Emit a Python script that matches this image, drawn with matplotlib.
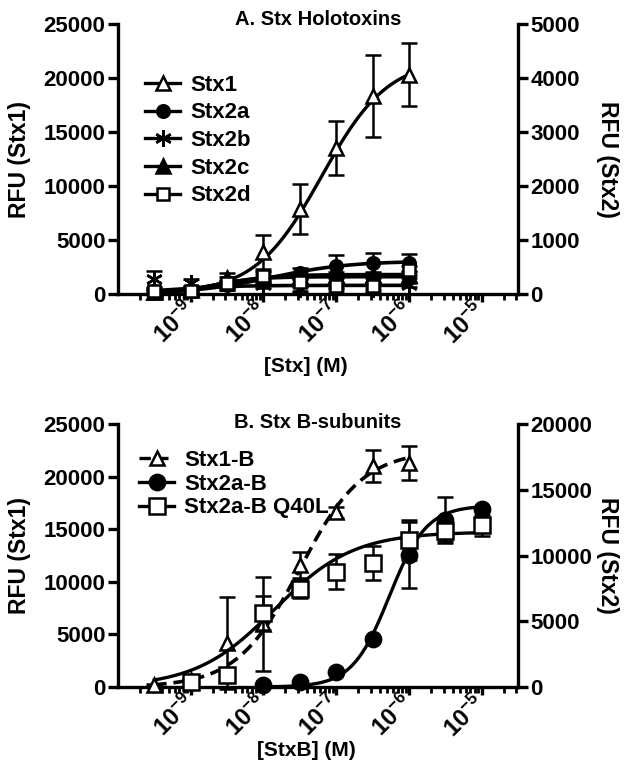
import matplotlib
matplotlib.use("Agg")
import matplotlib.pyplot as plt
import numpy as np
from matplotlib.ticker import FixedLocator, LogLocator, NullFormatter

plt.rcParams['font.family'] = ['Liberation Sans', 'DejaVu Sans']
plt.rcParams['font.weight'] = 'bold'
plt.rcParams['mathtext.fontset'] = 'custom'
plt.rcParams['mathtext.rm'] = 'Liberation Sans:bold'
plt.rcParams['mathtext.bf'] = 'Liberation Sans:bold'

#######################################
#### Data
#######################################
# A. Stx holotoxins
conc_a = [3.16e-10, 1e-9, 3.16e-9, 1e-8, 3.16e-8, 1e-7, 3.16e-7, 1e-6]
stx1 = [200, 500, 1500, 3900, 7900, 13500, 18300, 20300]
stx1_err = [150, 200, 400, 1600, 2300, 2500, 3800, 2900]
stx2a = [50, 80, 160, 300, 380, 520, 570, 575]
stx2a_err = [60, 60, 80, 100, 100, 210, 185, 170]
stx2b = [280, 200, 140, 170, 90, 80, 100, 170]
stx2b_err = [150, 80, 60, 60, 40, 40, 40, 40]
stx2c = [40, 70, 260, 300, 330, 350, 355, 360]
stx2c_err = [30, 40, 60, 60, 60, 60, 60, 60]
stx2d = [50, 60, 200, 340, 220, 150, 150, 440]
stx2d_err = [30, 40, 60, 80, 80, 60, 60, 80]

# fitted curves: (top, logEC50, hill), (log start, log stop)
stx1_fit = (21800, -7.2, 0.95)
stx2a_fit = (610, -7.9, 0.8)
stx2b_fit = (160, -9.3, 1.0)
stx2c_fit = (360, -8.6, 1.2)
stx2d_fit = (320, -8.7, 1.4)
fit_range_a = (-9.5, -6.0)

# B. Stx B-subunits
conc_stx1b = [3.16e-10, 1e-9, 3.16e-9, 1e-8, 3.16e-8, 1e-7, 3.16e-7, 1e-6]
stx1b = [150, 700, 4200, 6000, 11600, 16600, 21000, 21300]
stx1b_err = [100, 200, 4400, 4500, 1200, 500, 1500, 1600]
conc_stx2ab = [1e-8, 3.16e-8, 1e-7, 3.16e-7, 1e-6, 3.16e-6, 1e-5]
stx2ab = [125, 375, 1130, 3640, 10040, 12700, 13550]
stx2ab_err = [50, 50, 100, 150, 2500, 1750, 150]
conc_q40l = [1e-9, 3.16e-9, 1e-8, 3.16e-8, 1e-7, 3.16e-7, 1e-6, 3.16e-6, 1e-5]
q40l = [400, 900, 5650, 7450, 8780, 9410, 11170, 11900, 12300]
q40l_err = [100, 300, 1300, 700, 1350, 1300, 1500, 800, 800]

stx1b_fit = (22500, -7.5, 1.0)
stx1b_range = (-9.5, -6.0)
stx2ab_fit = (13800, -6.27, 1.7)
stx2ab_range = (-8.0, -5.0)
q40l_fit = (11800, -7.85, 0.8)
q40l_range = (-9.5, -5.0)

x_ticks = [1e-9, 1e-8, 1e-7, 1e-6, 1e-5]
x_labels = [r'$\mathbf{10^{-9}}$', r'$\mathbf{10^{-8}}$', r'$\mathbf{10^{-7}}$',
            r'$\mathbf{10^{-6}}$', r'$\mathbf{10^{-5}}$']

#######################################
#### Helpers
#######################################
def curve(fit, rng):
   top, logec, hill = fit
   lx = np.linspace(rng[0], rng[1], 200)
   return 10**lx, top / (1 + 10**(hill * (logec - lx)))

def style_axes(ax, ax2):
   ax.set_xscale('log')
   ax.set_xlim(1e-10, 10**-4.5)
   for a in (ax, ax2):
      a.spines['top'].set_visible(False)
      for s in ('left', 'right', 'bottom'):
         a.spines[s].set_linewidth(2.4)
   ax.spines['right'].set_visible(False)
   ax2.spines['left'].set_visible(False)
   ax2.spines['bottom'].set_visible(False)
   ax.xaxis.set_major_locator(FixedLocator(x_ticks))
   ax.set_xticklabels(x_labels, rotation=45, ha='right', va='center',
                      rotation_mode='anchor', fontsize=17)
   ax.xaxis.set_minor_locator(LogLocator(base=10, subs=np.arange(2, 10), numticks=20))
   ax.xaxis.set_minor_formatter(NullFormatter())
   ax.tick_params(axis='x', which='major', length=6, width=2.4, pad=3)
   ax.tick_params(axis='x', which='minor', length=4.5, width=2.0)
   ax.tick_params(axis='y', length=7.5, width=2.4, labelsize=16, pad=1.5)
   ax2.tick_params(axis='y', length=7.5, width=2.4, labelsize=16, pad=1.5)
   for lab in ax.get_yticklabels() + ax2.get_yticklabels():
      lab.set_fontweight('bold')

def ebar(ax, x, y, e, marker, face, ls='-', ms=10, label=None):
   ax.errorbar(x, y, yerr=e, fmt='none', ecolor='black', elinewidth=1.8,
               capsize=6, capthick=1.8, zorder=3, clip_on=False)
   ax.plot(x, y, ls='none', marker=marker, ms=ms, mfc=face, mec='black', mew=1.8,
           zorder=4, clip_on=False)
   return ax.plot([], [], marker=marker, ms=ms, mfc=face, mec='black', mew=1.8,
                  color='black', lw=2.4, ls=ls, label=label)[0]

#######################################
#### Figure
#######################################
fig = plt.figure(figsize=(6.29, 7.66), dpi=100)

# ---- A. holotoxins
axA = fig.add_axes([0.1876, 0.6162, 0.636, 0.3525])
axA2 = axA.twinx()
axA.set_ylim(0, 25000)
axA2.set_ylim(0, 5000)
axA.set_yticks([0, 5000, 10000, 15000, 20000, 25000])
axA2.set_yticks([0, 1000, 2000, 3000, 4000, 5000])

for fit in (stx2b_fit, stx2c_fit, stx2d_fit, stx2a_fit):
   cx, cy = curve(fit, fit_range_a)
   axA2.plot(cx, cy, color='black', lw=2.6, zorder=2)
cx, cy = curve(stx1_fit, fit_range_a)
axA.plot(cx, cy, color='black', lw=2.4, zorder=2)

hA = []
hA.append(ebar(axA, conc_a, stx1, stx1_err, '^', 'white', label='Stx1'))
hA.append(ebar(axA2, conc_a, stx2a, stx2a_err, 'o', 'black', ms=9, label='Stx2a'))
hA.append(ebar(axA2, conc_a, stx2b, stx2b_err, (6, 2, 0), 'black', ms=12, label='Stx2b'))
hA.append(ebar(axA2, conc_a, stx2c, stx2c_err, '^', 'black', label='Stx2c'))
hA.append(ebar(axA2, conc_a, stx2d, stx2d_err, 's', 'white', ms=9, label='Stx2d'))
style_axes(axA, axA2)
axA2.legend(handles=hA, loc='upper left', bbox_to_anchor=(0.045, 0.845), frameon=False,
            prop={'weight': 'bold', 'size': 16}, handlelength=1.6, handletextpad=0.45,
            labelspacing=0.3, borderaxespad=0)
axA.text(0.5, 1.015, 'A. Stx Holotoxins', transform=axA.transAxes, ha='center',
         va='center', fontsize=14.5, fontweight='bold')

# ---- B. B-subunits
axB = fig.add_axes([0.1876, 0.1031, 0.636, 0.3433])
axB2 = axB.twinx()
axB.set_ylim(0, 25000)
axB2.set_ylim(0, 20000)
axB.set_yticks([0, 5000, 10000, 15000, 20000, 25000])
axB2.set_yticks([0, 5000, 10000, 15000, 20000])

dash = (0, (3.4, 1.9))
cx, cy = curve(stx1b_fit, stx1b_range)
axB.plot(cx, cy, color='black', lw=2.6, ls=dash, zorder=2)
cx, cy = curve(q40l_fit, q40l_range)
axB2.plot(cx, cy, color='black', lw=2.4, zorder=2)
cx, cy = curve(stx2ab_fit, stx2ab_range)
axB2.plot(cx, cy, color='black', lw=2.4, zorder=2)

hB = []
hB.append(ebar(axB, conc_stx1b, stx1b, stx1b_err, '^', 'white', ls=dash, label='Stx1-B'))
hB.append(ebar(axB2, conc_stx2ab, stx2ab, stx2ab_err, 'o', 'black', ms=11, label='Stx2a-B'))
hB.append(ebar(axB2, conc_q40l, q40l, q40l_err, 's', 'white', ms=11, label='Stx2a-B Q40L'))
style_axes(axB, axB2)
axB2.legend(handles=hB, loc='upper left', bbox_to_anchor=(0.03, 0.935), frameon=False,
            prop={'weight': 'bold', 'size': 16}, handlelength=1.6, handletextpad=0.45,
            labelspacing=0.12, borderaxespad=0)
axB.text(0.5, 1.005, 'B. Stx B-subunits', transform=axB.transAxes, ha='center',
         va='center', fontsize=14.5, fontweight='bold')

# ---- axis titles
fig.text(20/629, 1 - 159/766, 'RFU (Stx1)', rotation=90, ha='center', va='center',
         fontsize=16.5, fontweight='bold')
fig.text(607/629, 1 - 159/766, 'RFU (Stx2)', rotation=270, ha='center', va='center',
         fontsize=16.5, fontweight='bold')
fig.text(306/629, 1 - 366/766, '[Stx] (M)', ha='center', va='center',
         fontsize=15, fontweight='bold')
fig.text(20/629, 1 - 555/766, 'RFU (Stx1)', rotation=90, ha='center', va='center',
         fontsize=16.5, fontweight='bold')
fig.text(607/629, 1 - 555/766, 'RFU (Stx2)', rotation=270, ha='center', va='center',
         fontsize=16.5, fontweight='bold')
fig.text(306/629, 1 - 751/766, '[StxB] (M)', ha='center', va='center',
         fontsize=15, fontweight='bold')

fig.savefig('out.png', dpi=100)
